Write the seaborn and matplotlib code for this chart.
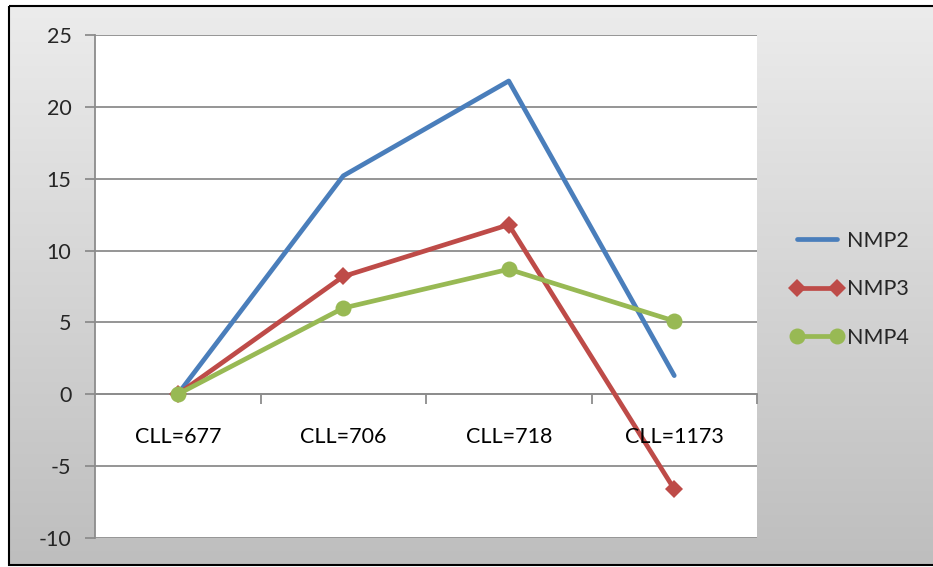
import numpy as np
import pandas as pd
import matplotlib
matplotlib.use("Agg")
import matplotlib.pyplot as plt
from matplotlib.patches import Rectangle
import seaborn as sns

categories = ["CLL=677", "CLL=706", "CLL=718", "CLL=1173"]
nmp2 = [0.0, 15.2, 21.8, 1.3]
nmp3 = [0.0, 8.2, 11.8, -6.6]
nmp4 = [0.0, 6.0, 8.7, 5.1]
series_names = ["NMP2", "NMP3", "NMP4"]
y_ticks = [-10, -5, 0, 5, 10, 15, 20, 25]

colors = {"NMP2": "#4A7EBB", "NMP3": "#BE4B48", "NMP4": "#98B954"}
markers = {"NMP2": "", "NMP3": "D", "NMP4": "o"}

rows = []
for name, vals in zip(series_names, [nmp2, nmp3, nmp4]):
    for i, v in enumerate(vals):
        rows.append({"pos": i, "value": v, "series": name})
df = pd.DataFrame(rows)

sns.set_theme(style="white")
plt.rcParams["font.family"] = ["Lato", "DejaVu Sans"]

W, H = 933, 567
fig = plt.figure(figsize=(W / 100, H / 100), dpi=100)
fig.patch.set_facecolor("white")

# framed chart area with a vertical grey gradient
bg = fig.add_axes([0, 0, 1, 1], zorder=-10)
bg.set_xlim(0, W)
bg.set_ylim(H, 0)
bg.axis("off")
grad = np.linspace(0, 1, 256).reshape(-1, 1)
top_c = np.array([0.925, 0.925, 0.925])
bot_c = np.array([0.745, 0.745, 0.745])
img = top_c + (bot_c - top_c) * grad[..., None]
img = img.reshape(256, 1, 3)
bg.imshow(img, extent=[9, W + 2, 565, 6], aspect="auto", interpolation="bilinear")
bg.add_patch(Rectangle((9, 6), W, 559, fill=False, edgecolor="black", lw=1.5))

x0, x1, yt, yb = 95, 757, 35, 538
ax = fig.add_axes([x0 / W, 1 - yb / H, (x1 - x0) / W, (yb - yt) / H])
ax.set_facecolor("white")

for name in series_names:
    sub = df[df["series"] == name]
    sns.lineplot(data=sub, x="pos", y="value", ax=ax, color=colors[name],
                 lw=3.4, marker=markers[name] if markers[name] else None,
                 markersize=9 if name == "NMP3" else 11.5,
                 markeredgewidth=0, label=name, legend=False, zorder=3)

ax.set_xlim(-0.5, 3.5)
ax.set_ylim(-10, 25)
ax.set_yticks(y_ticks)
ax.set_yticklabels([str(t) for t in y_ticks], fontsize=15.5)
ax.yaxis.grid(True, color="#8c8c8c", lw=1.3)
ax.set_axisbelow(True)

for s in ["top", "right"]:
    ax.spines[s].set_visible(False)
ax.spines["left"].set_color("#8c8c8c")
ax.spines["left"].set_linewidth(1.3)
ax.spines["bottom"].set_position(("data", 0))
ax.spines["bottom"].set_color("#8c8c8c")
ax.spines["bottom"].set_linewidth(1.3)

ax.tick_params(axis="y", length=7, width=1.3, color="#8c8c8c", pad=10, left=True)
ax.set_xticks([0.5, 1.5, 2.5, 3.5])
ax.set_xticklabels([])
ax.tick_params(axis="x", length=7, width=1.3, color="#8c8c8c", bottom=True, direction="out")
ax.set_xlabel("")
ax.set_ylabel("")

for i, c in enumerate(categories):
    ax.text(i, -3.0, c, ha="center", va="center", fontsize=15.5, color="black", zorder=4)

handles, labels = ax.get_legend_handles_labels()
leg = fig.legend(handles, labels, loc="upper left", bbox_to_anchor=(782 / W, 1 - 222 / H),
                 frameon=False, fontsize=15.5, handlelength=2.45, handletextpad=0.15,
                 labelspacing=1.33, borderaxespad=0, numpoints=2)

fig.savefig("out.png", dpi=100)
